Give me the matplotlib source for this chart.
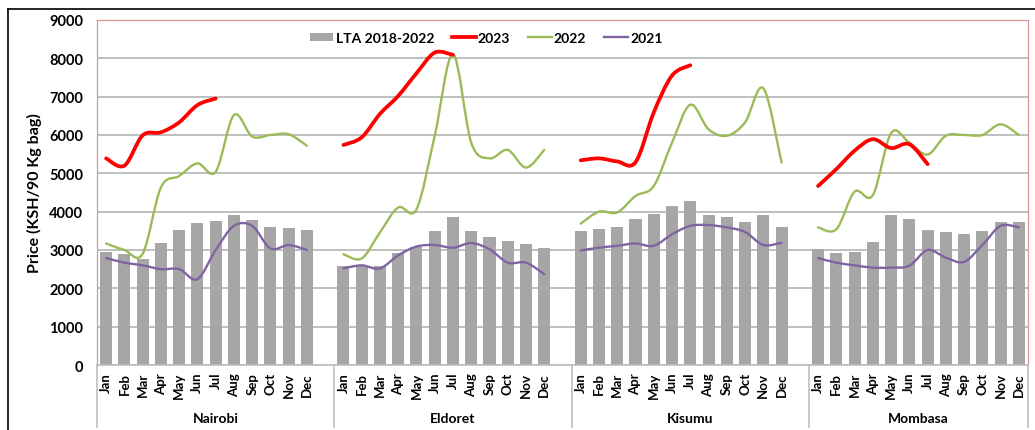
import numpy as np
import matplotlib
matplotlib.use("Agg")
import matplotlib.pyplot as plt
from matplotlib.path import Path
from matplotlib.patches import PathPatch, Patch
from matplotlib.lines import Line2D
import matplotlib.transforms as mtransforms

plt.rcParams['font.family'] = ['Lato', 'DejaVu Sans']

months = ["Jan", "Feb", "Mar", "Apr", "May", "Jun", "Jul", "Aug", "Sep", "Oct", "Nov", "Dec"]
markets = ["Nairobi", "Eldoret", "Kisumu", "Mombasa"]

# LTA 2018-2022 (bars)
lta_nairobi = [2960, 2890, 2760, 3170, 3510, 3710, 3750, 3900, 3780, 3600, 3570, 3520]
lta_eldoret = [2590, 2590, 2590, 2930, 3090, 3490, 3850, 3490, 3330, 3240, 3150, 3050]
lta_kisumu = [3500, 3560, 3590, 3800, 3930, 4140, 4280, 3910, 3850, 3740, 3910, 3590]
lta_mombasa = [3020, 2930, 2960, 3220, 3900, 3800, 3530, 3480, 3430, 3500, 3740, 3720]

# 2023 (Jan-Jul)
y2023_nairobi = [5390, 5200, 5990, 6070, 6330, 6780, 6950]
y2023_eldoret = [5740, 5940, 6550, 7020, 7610, 8150, 8090]
y2023_kisumu = [5340, 5390, 5310, 5290, 6590, 7550, 7820]
y2023_mombasa = [4670, 5110, 5590, 5890, 5660, 5760, 5240]

# 2022
y2022_nairobi = [3170, 3000, 2900, 4630, 4930, 5260, 5040, 6520, 5960, 6000, 6020, 5720]
y2022_eldoret = [2890, 2780, 3460, 4110, 4060, 5980, 8110, 5800, 5390, 5610, 5150, 5610]
y2022_kisumu = [3690, 4000, 3980, 4410, 4670, 5800, 6790, 6150, 5980, 6330, 7220, 5280]
y2022_mombasa = [3590, 3540, 4520, 4430, 6050, 5800, 5490, 5980, 6000, 6000, 6280, 6000]

# 2021
y2021_nairobi = [2790, 2670, 2600, 2500, 2500, 2240, 3000, 3630, 3630, 3040, 3130, 3000]
y2021_eldoret = [2520, 2600, 2520, 2860, 3090, 3130, 3060, 3180, 3020, 2670, 2670, 2370]
y2021_kisumu = [2990, 3060, 3110, 3170, 3110, 3410, 3630, 3650, 3590, 3470, 3130, 3190]
y2021_mombasa = [2790, 2670, 2600, 2540, 2540, 2590, 3000, 2800, 2690, 3130, 3630, 3590]

lta = [lta_nairobi, lta_eldoret, lta_kisumu, lta_mombasa]
s2023 = [y2023_nairobi, y2023_eldoret, y2023_kisumu, y2023_mombasa]
s2022 = [y2022_nairobi, y2022_eldoret, y2022_kisumu, y2022_mombasa]
s2021 = [y2021_nairobi, y2021_eldoret, y2021_kisumu, y2021_mombasa]

GREY = "#A6A6A6"
RED = "#FF0000"
GREEN = "#9BBB59"
PURPLE = "#8064A2"

fig = plt.figure(figsize=(10.35, 4.31), dpi=100)
ax = fig.add_axes([97/1035, 1-366/431, 931/1035, 345/431])

slot = 13  # 12 months + one blank slot between markets


def smooth_path(xs, ys):
    pts = np.column_stack([xs, ys]).astype(float)
    n = len(pts)
    verts = [pts[0]]
    codes = [Path.MOVETO]
    for i in range(n - 1):
        p0 = pts[i - 1] if i > 0 else pts[i]
        p1 = pts[i]
        p2 = pts[i + 1]
        p3 = pts[i + 2] if i + 2 < n else pts[i + 1]
        c1 = p1 + (p2 - p0) / 6.0
        c2 = p2 - (p3 - p1) / 6.0
        verts += [c1, c2, p2]
        codes += [Path.CURVE4] * 3
    return Path(verts, codes)


xticks = []
xlabels = []
for g, m in enumerate(markets):
    xs = np.arange(12) + g * slot
    xticks += list(xs)
    xlabels += months
    ax.bar(xs, lta[g], width=0.66, color=GREY, zorder=2)
    for series, col, lw in ((s2021, PURPLE, 1.7), (s2022, GREEN, 1.7), (s2023, RED, 2.7)):
        vals = series[g]
        p = smooth_path(xs[:len(vals)], vals)
        ax.add_patch(PathPatch(p, facecolor="none", edgecolor=col, lw=lw,
                               zorder=3, capstyle="round", joinstyle="round"))

ax.set_xlim(-0.5, 3 * slot + 11.5)
ax.set_ylim(0, 9000)
ax.set_yticks(np.arange(0, 9001, 1000))
ax.yaxis.grid(True, color="#BFBFBF", lw=1.4, zorder=0)
ax.set_axisbelow(True)
ax.tick_params(axis="y", length=0, pad=10, labelsize=10.5)
for t in ax.get_yticklabels():
    t.set_fontweight("bold")
ax.set_xticks(xticks)
ax.set_xticklabels(xlabels, rotation=90, fontsize=9.5, fontweight="bold")
ax.tick_params(axis="x", length=0, pad=5)

for s in ("top", "left", "right"):
    ax.spines[s].set_color("#D99694")
    ax.spines[s].set_linewidth(0.9)
ax.spines["bottom"].set_color("#BFBFBF")
ax.spines["bottom"].set_linewidth(1.2)

ax.set_ylabel("Price (KSH/90 Kg bag)", fontsize=11.5, fontweight="bold", labelpad=5)

trans = mtransforms.blended_transform_factory(ax.transData, ax.transAxes)
bounds = [-0.5, slot - 0.5, 2 * slot - 0.5, 3 * slot - 0.5, 3 * slot + 11.5]
for b in bounds:
    ax.add_line(Line2D([b, b], [0, -62/345], transform=trans, color="#BFBFBF",
                       lw=1.2, clip_on=False))
for g, m in enumerate(markets):
    lo = bounds[g]
    hi = bounds[g + 1]
    ax.text((lo + hi) / 2, -53/345, m, transform=trans, ha="center", va="center",
            fontsize=10, fontweight="bold")

handles = [Patch(facecolor=GREY, edgecolor="none"),
           Line2D([], [], color=RED, lw=2.7),
           Line2D([], [], color=GREEN, lw=1.7),
           Line2D([], [], color=PURPLE, lw=1.7)]
labels = ["LTA 2018-2022", "2023", "2022", "2021"]
leg = ax.legend(handles, labels, ncol=4, loc="center", bbox_to_anchor=(0.418, 0.948),
                frameon=False, handlelength=1.7, handletextpad=0.15, columnspacing=1.3,
                prop={"weight": "bold", "size": 10}, handleheight=0.6)

# outer chart border
fig.add_artist(Line2D([8/1035, 1.0], [1-10/431, 1-10/431], transform=fig.transFigure,
                      color="black", lw=1.2))
fig.add_artist(Line2D([8/1035, 8/1035], [0, 1-10/431], transform=fig.transFigure,
                      color="black", lw=1.2))

fig.savefig("out.png", dpi=100)
